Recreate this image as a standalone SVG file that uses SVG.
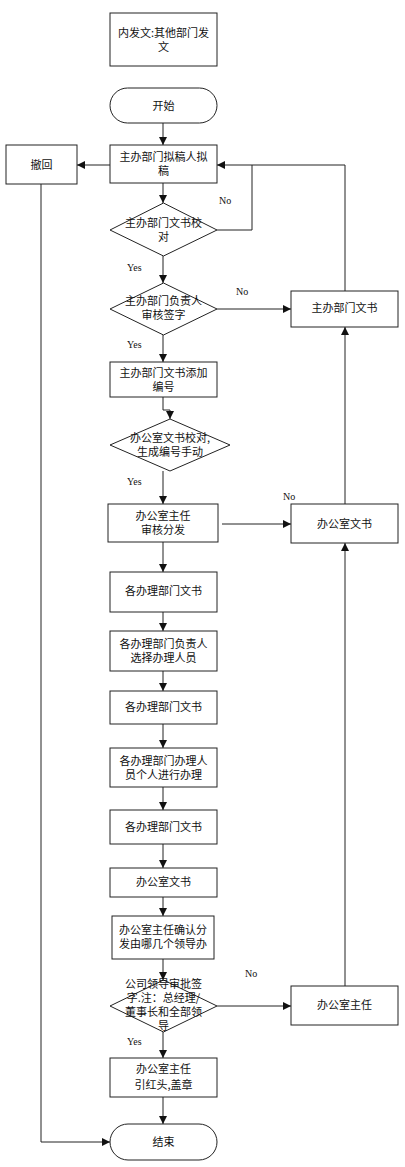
<svg xmlns="http://www.w3.org/2000/svg" width="405" height="1167" viewBox="0 0 405 1167">
<style>
.n{fill:#fff;stroke:#222;stroke-width:1}
.t{font-family:"Noto Sans CJK SC","Noto Sans",sans-serif;font-size:11px;fill:#111;text-anchor:middle}
.l{font-family:"Liberation Serif",serif;font-size:10px;fill:#111}
.c{fill:none;stroke:#222;stroke-width:1}
</style>
<defs>
<marker id="a" markerWidth="8" markerHeight="8" refX="8" refY="4" orient="auto" markerUnits="userSpaceOnUse">
<path d="M0,0 L8,4 L0,8 z" fill="#111"/>
</marker>
</defs>
<rect width="405" height="1167" fill="#fff"/>
<g id="connectors">
<path class="c" d="M163,123 V145" marker-end="url(#a)"/>
<path class="c" d="M110,165 H77" marker-end="url(#a)"/>
<path class="c" d="M163,183 V203" marker-end="url(#a)"/>
<path class="c" d="M217,230 H252 V165 H217" marker-end="url(#a)"/>
<path class="c" d="M345,291 V165 H252"/>
<path class="c" d="M163,256 V283" marker-end="url(#a)"/>
<path class="c" d="M217,309 H291" marker-end="url(#a)"/>
<path class="c" d="M163,335 V362" marker-end="url(#a)"/>
<path class="c" d="M163,397 V410 H170 V419" marker-end="url(#a)"/>
<path class="c" d="M163,471 V504" marker-end="url(#a)"/>
<path class="c" d="M222,524 H291" marker-end="url(#a)"/>
<path class="c" d="M345,504 V327" marker-end="url(#a)"/>
<path class="c" d="M163,542 V572" marker-end="url(#a)"/>
<path class="c" d="M163,612 V631" marker-end="url(#a)"/>
<path class="c" d="M163,671 V691" marker-end="url(#a)"/>
<path class="c" d="M163,724 V748" marker-end="url(#a)"/>
<path class="c" d="M163,787 V810" marker-end="url(#a)"/>
<path class="c" d="M163,844 V868" marker-end="url(#a)"/>
<path class="c" d="M163,897 V916" marker-end="url(#a)"/>
<path class="c" d="M163,959 V980" marker-end="url(#a)"/>
<path class="c" d="M217,1006 H291" marker-end="url(#a)"/>
<path class="c" d="M345,986 V543" marker-end="url(#a)"/>
<path class="c" d="M163,1032 V1058" marker-end="url(#a)"/>
<path class="c" d="M163,1097 V1124" marker-end="url(#a)"/>
<path class="c" d="M41,184 V1142 H110" marker-end="url(#a)"/>
<text class="l" x="219" y="204">No</text>
<text class="l" x="127" y="271">Yes</text>
<text class="l" x="236" y="295">No</text>
<text class="l" x="127" y="348">Yes</text>
<text class="l" x="127" y="485">Yes</text>
<text class="l" x="283" y="500">No</text>
<text class="l" x="245" y="977">No</text>
<text class="l" x="127" y="1045">Yes</text>
</g>
<g id="n0"><rect class="n" x="110" y="13" width="107" height="53"/><text class="t" x="163.5" y="37">内发文:其他部门发</text><text class="t" x="163.5" y="51">文</text></g>
<g id="start"><rect class="n" x="110" y="88" width="107" height="35" rx="17.5"/><text class="t" x="163.5" y="110">开始</text></g>
<g id="n1"><rect class="n" x="110" y="145" width="107" height="38"/><text class="t" x="163.5" y="161">主办部门拟稿人拟</text><text class="t" x="163.5" y="175">稿</text></g>
<g id="chehui"><rect class="n" x="6" y="145" width="71" height="39"/><text class="t" x="41.5" y="169">撤回</text></g>
<g id="d1"><polygon class="n" points="163.5,203 217,230 163.5,256 110,230"/><text class="t" x="163.5" y="227">主办部门文书校</text><text class="t" x="163.5" y="241">对</text></g>
<g id="d2"><polygon class="n" points="163.5,283 217,309 163.5,335 110,309"/><text class="t" x="163.5" y="305">主办部门负责人</text><text class="t" x="163.5" y="319">审核签字</text></g>
<g id="r1"><rect class="n" x="291" y="291" width="107" height="36"/><text class="t" x="344.5" y="312">主办部门文书</text></g>
<g id="n2"><rect class="n" x="110" y="362" width="107" height="35"/><text class="t" x="163.5" y="377">主办部门文书添加</text><text class="t" x="163.5" y="391">编号</text></g>
<g id="d3"><polygon class="n" points="170,419 230,445 170,471 110,445"/><text class="t" x="170" y="442">办公室文书校对,</text><text class="t" x="170" y="456">生成编号手动</text></g>
<g id="n3"><rect class="n" x="108" y="504" width="110" height="38"/><text class="t" x="163" y="520">办公室主任</text><text class="t" x="163" y="534">审核分发</text></g>
<g id="r2"><rect class="n" x="291" y="504" width="107" height="39"/><text class="t" x="344.5" y="528">办公室文书</text></g>
<g id="n4"><rect class="n" x="110" y="572" width="107" height="40"/><text class="t" x="163.5" y="595">各办理部门文书</text></g>
<g id="n5"><rect class="n" x="110" y="631" width="107" height="40"/><text class="t" x="163.5" y="648">各办理部门负责人</text><text class="t" x="163.5" y="662">选择办理人员</text></g>
<g id="n6"><rect class="n" x="110" y="691" width="107" height="33"/><text class="t" x="163.5" y="711">各办理部门文书</text></g>
<g id="n7"><rect class="n" x="110" y="748" width="107" height="39"/><text class="t" x="163.5" y="765">各办理部门办理人</text><text class="t" x="163.5" y="779">员个人进行办理</text></g>
<g id="n8"><rect class="n" x="110" y="810" width="107" height="34"/><text class="t" x="163.5" y="831">各办理部门文书</text></g>
<g id="n9"><rect class="n" x="110" y="868" width="107" height="29"/><text class="t" x="163.5" y="886">办公室文书</text></g>
<g id="n10"><rect class="n" x="112" y="916" width="102" height="43"/><text class="t" x="163" y="934">办公室主任确认分</text><text class="t" x="163" y="948">发由哪几个领导办</text></g>
<g id="d4"><polygon class="n" points="163.5,980 217,1006 163.5,1032 110,1006"/><text class="t" x="163.5" y="988">公司领导审批签</text><text class="t" x="163.5" y="1002">字.注：总经理/</text><text class="t" x="163.5" y="1016">董事长和全部领</text><text class="t" x="163.5" y="1030">导</text></g>
<g id="r3"><rect class="n" x="291" y="986" width="107" height="39"/><text class="t" x="344.5" y="1009">办公室主任</text></g>
<g id="n11"><rect class="n" x="110" y="1058" width="107" height="39"/><text class="t" x="163.5" y="1073">办公室主任</text><text class="t" x="163.5" y="1089">引红头,盖章</text></g>
<g id="end"><rect class="n" x="110" y="1124" width="107" height="36" rx="18"/><text class="t" x="163.5" y="1146">结束</text></g>
</svg>
